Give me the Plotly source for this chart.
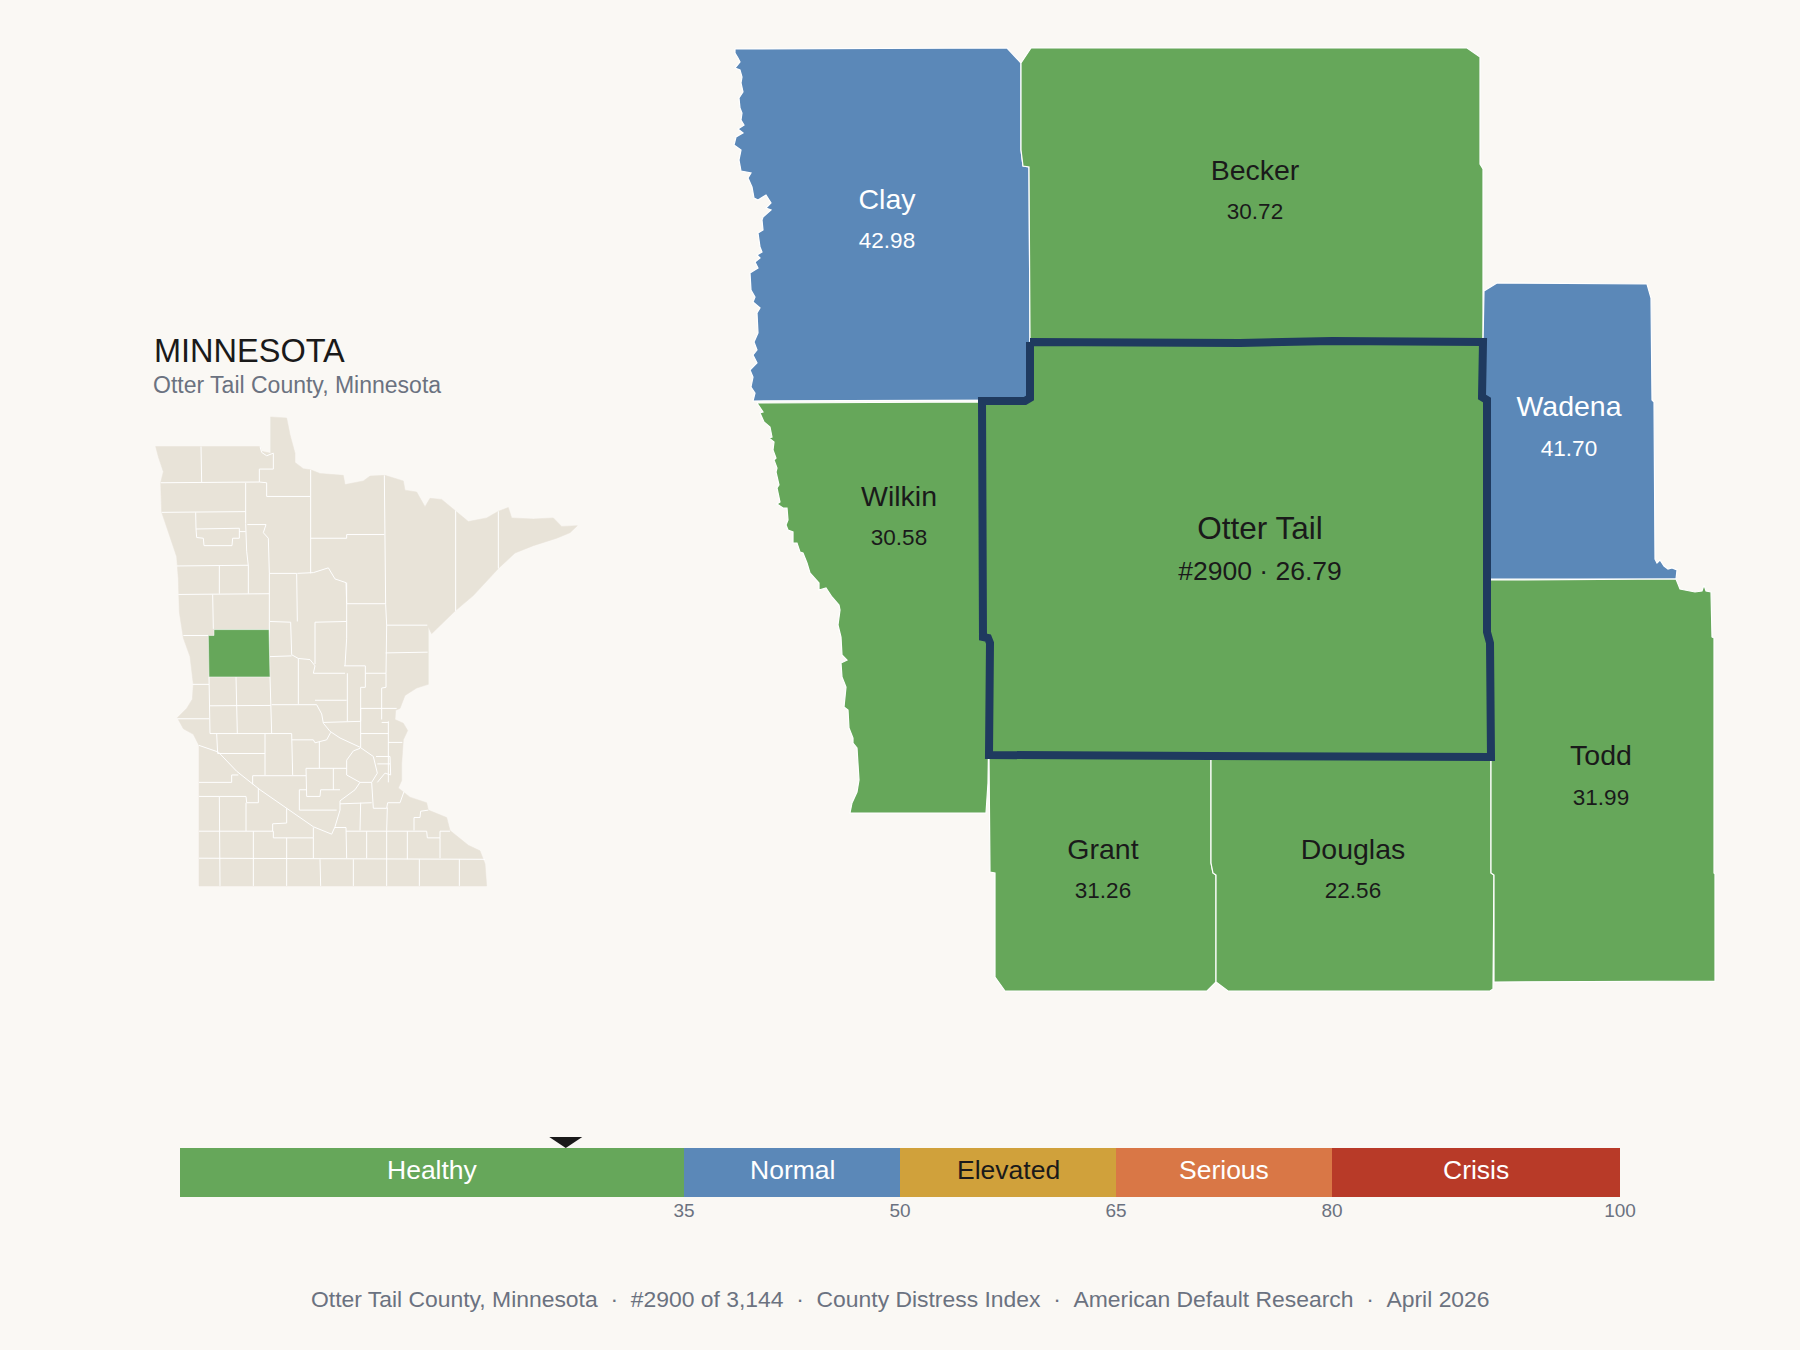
# County distress map for Otter Tail County, with state inset and score scale
import plotly.graph_objects as go

# Colours
BG = "#FAF8F4"
DARK = "#1A1A1A"
GRAY = "#6B7280"
NAVY = "#1F3A5F"
BEIGE = "#E8E3D8"
FONT = "Liberation Sans"

# Score scale
BAND_NAMES = ["Healthy", "Normal", "Elevated", "Serious", "Crisis"]
BAND_LOW = [0, 35, 50, 65, 80]
BAND_HIGH = [35, 50, 65, 80, 100]
BAND_COLORS = ["#66A75A", "#5B88B8", "#D0A13B", "#D97746", "#B83A28"]
BAND_TEXT = ["white", "white", DARK, "white", "white"]
SCALE_TICKS = [35, 50, 65, 80, 100]

# Counties
COUNTY_NAMES = ["Clay", "Becker", "Wadena", "Wilkin", "Grant", "Douglas", "Todd", "Otter Tail"]
COUNTY_SCORES = [42.98, 30.72, 41.70, 30.58, 31.26, 22.56, 31.99, 26.79]
COUNTY_RANK = 2900
LABEL_X = [887, 1255, 1569, 899, 1103, 1353, 1601, 1260]
NAME_Y = [202, 173, 409, 499, 852, 852, 758, 531]
SCORE_Y = [242, 213, 450, 539, 892, 892, 799, 573]

# County outlines, in page pixels
CLAY = [(735, 49), (1007, 48), (1021, 63), (1021, 150), (1023, 166), (1029, 167), (1030, 338), (1030, 397),
        (1027, 400), (753, 401), (755, 393), (751, 387), (753, 377), (750, 370), (757, 363), (753, 355),
        (757, 350), (754, 342), (758, 333), (757, 313), (760, 308), (753, 302), (755, 297), (751, 290),
        (750, 273), (758, 268), (755, 262), (760, 258), (757, 255), (762, 252), (760, 247), (758, 233),
        (763, 230), (762, 220), (763, 217), (771, 210), (766, 208), (771, 203), (766, 195), (758, 200),
        (754, 198), (752, 187), (748, 178), (751, 173), (741, 171), (739, 160), (741, 150), (734, 145),
        (736, 137), (743, 133), (738, 129), (744, 125), (741, 120), (742, 113), (740, 108), (739, 98),
        (743, 92), (741, 83), (742, 77), (740, 70), (735, 68), (740, 62), (738, 58), (735, 53)]
BECKER = [(1031, 48), (1467, 48), (1480, 57), (1480, 164), (1483, 169), (1483, 341), (1030, 341), (1030, 338),
          (1029, 167), (1023, 166), (1021, 150), (1021, 63)]
WADENA = [(1484, 291), (1497, 283), (1647, 284), (1651, 298), (1652, 400), (1654, 402), (1655, 559), (1657, 563),
          (1660, 560), (1664, 566), (1668, 569), (1672, 568), (1677, 570), (1676, 579), (1488, 579), (1487, 400),
          (1482, 397), (1483, 342)]
WILKIN = [(757, 403), (983, 402), (983, 637), (988, 638), (990, 643), (989, 755), (988, 783), (986, 813),
          (850, 813), (852, 803), (857, 792), (859, 780), (858, 757), (857, 748), (853, 743), (853, 738),
          (849, 728), (848, 710), (844, 707), (846, 687), (842, 677), (841, 663), (847, 660), (842, 655),
          (841, 637), (838, 625), (840, 610), (839, 605), (832, 597), (826, 588), (819, 590), (819, 583),
          (810, 573), (807, 563), (803, 553), (800, 552), (797, 543), (793, 543), (793, 532), (788, 530),
          (786, 525), (788, 520), (787, 508), (783, 508), (777, 504), (780, 502), (777, 488), (779, 485),
          (776, 472), (777, 468), (774, 460), (776, 458), (773, 450), (774, 442), (769, 438), (772, 437),
          (770, 427), (764, 422), (760, 413), (763, 412)]
GRANT = [(989, 757), (1211, 757), (1211, 863), (1213, 873), (1216, 875), (1216, 982), (1207, 991), (1005, 991),
         (995, 977), (995, 873), (990, 872)]
DOUGLAS = [(1211, 757), (1491, 757), (1491, 873), (1494, 875), (1493, 989), (1490, 991), (1228, 991), (1216, 982),
           (1216, 875), (1213, 873), (1211, 863)]
TODD = [(1487, 580), (1676, 579), (1680, 589), (1695, 592), (1702, 591), (1704, 585), (1706, 591), (1711, 592),
        (1712, 637), (1714, 638), (1714, 873), (1715, 874), (1715, 981), (1494, 982), (1494, 875), (1491, 873),
        (1491, 757), (1490, 643), (1487, 632)]
OTTER_TAIL = [(1030, 342), (1030, 398), (1025, 401), (982, 401), (983, 637), (988, 638), (990, 643), (989, 755),
              (1210, 756), (1491, 757), (1490, 643), (1487, 632), (1487, 400), (1482, 397), (1483, 342),
              (1332, 341), (1240, 343)]
COUNTY_SHAPES = [CLAY, BECKER, WADENA, WILKIN, GRANT, DOUGLAS, TODD, OTTER_TAIL]

# State inset, in its own units
STATE = [(47, 342), (360, 342), (365, 355), (392, 360), (392, 262), (440, 265), (450, 310), (465, 360), (465, 385),
         (490, 402), (512, 405), (540, 415), (610, 420), (615, 445), (670, 435), (690, 422), (735, 420), (790, 435),
         (795, 460), (830, 465), (855, 505), (870, 482), (905, 485), (945, 515), (985, 545), (1040, 535), (1075, 517),
         (1105, 507), (1115, 535), (1180, 538), (1240, 535), (1265, 558), (1312, 556), (1290, 575), (1250, 590),
         (1180, 610), (1125, 630), (1075, 672), (1000, 745), (945, 787), (900, 825), (875, 848), (865, 830),
         (865, 985), (830, 995), (795, 1015), (780, 1050), (767, 1055), (765, 1080), (790, 1090), (803, 1110),
         (790, 1135), (785, 1200), (785, 1245), (775, 1265), (810, 1290), (860, 1305), (865, 1325), (920, 1345),
         (930, 1380), (985, 1420), (1020, 1435), (1035, 1470), (1040, 1530), (177, 1530), (177, 1150), (160, 1120),
         (130, 1105), (112, 1075), (140, 1050), (157, 1025), (160, 985), (150, 910), (130, 860), (118, 790),
         (115, 700), (110, 640), (85, 570), (65, 520), (62, 440), (70, 410), (55, 370)]
STATE_HIGHLIGHT = [(205, 853), (222, 853), (222, 837), (387, 837), (390, 965), (207, 965)]
STATE_LINES = [
    [(183, 342), (185, 438)],
    [(62, 440), (358, 438)],
    [(358, 438), (358, 403), (400, 403), (400, 360), (380, 367), (365, 358), (360, 342)],
    [(358, 438), (380, 440), (380, 477), (510, 477)],
    [(512, 405), (512, 685)],
    [(317, 440), (317, 550), (320, 625), (325, 665), (325, 740)],
    [(65, 520), (317, 518)],
    [(167, 520), (168, 565), (298, 563), (298, 590), (278, 590), (276, 610), (192, 610), (190, 590), (170, 588), (168, 565)],
    [(298, 572), (317, 572)],
    [(322, 553), (378, 553), (370, 575), (385, 590), (388, 685)],
    [(110, 665), (325, 663)],
    [(238, 665), (238, 740)],
    [(115, 742), (388, 740)],
    [(218, 742), (220, 835)],
    [(388, 685), (470, 685), (472, 815)],
    [(388, 685), (388, 965)],
    [(472, 685), (520, 683), (565, 670), (585, 700), (618, 710), (620, 765)],
    [(512, 590), (620, 590), (620, 580), (733, 580)],
    [(733, 420), (737, 770), (740, 825), (738, 955)],
    [(620, 710), (620, 860), (615, 935)],
    [(620, 767), (737, 767)],
    [(390, 815), (452, 817), (455, 905), (475, 915), (510, 918), (525, 935), (520, 955)],
    [(525, 817), (620, 815)],
    [(525, 817), (525, 930)],
    [(520, 955), (615, 955)],
    [(390, 910), (455, 908)],
    [(475, 915), (475, 1038)],
    [(130, 853), (205, 853)],
    [(222, 837), (388, 837)],
    [(207, 965), (210, 1118)],
    [(158, 985), (207, 985)],
    [(288, 965), (292, 1118)],
    [(390, 965), (395, 1118)],
    [(210, 1043), (392, 1042)],
    [(112, 1078), (208, 1078)],
    [(210, 1118), (455, 1118)],
    [(395, 1040), (530, 1040), (545, 1065), (550, 1090), (570, 1112), (600, 1130), (660, 1155), (700, 1180), (712, 1225),
     (695, 1250), (660, 1250), (645, 1270), (600, 1300), (600, 1325), (585, 1370), (575, 1390), (520, 1370), (440, 1320),
     (360, 1270), (290, 1220), (235, 1168), (177, 1150)],
    [(230, 1118), (233, 1172), (375, 1172)],
    [(375, 1118), (375, 1230)],
    [(455, 1118), (458, 1230)],
    [(455, 1135), (520, 1135), (525, 1143), (560, 1135), (572, 1115)],
    [(538, 1140), (538, 1212)],
    [(338, 1255), (338, 1232), (498, 1232)],
    [(295, 1230), (275, 1230), (275, 1250), (177, 1250)],
    [(498, 1212), (620, 1212)],
    [(498, 1212), (500, 1288), (540, 1288), (542, 1270), (600, 1270)],
    [(580, 1212), (580, 1270)],
    [(500, 1270), (478, 1270), (478, 1325), (590, 1325)],
    [(660, 1250), (620, 1230), (620, 1190), (640, 1165), (660, 1158)],
    [(708, 1180), (750, 1180), (752, 1230), (735, 1225), (712, 1250)],
    [(712, 1200), (750, 1200)],
    [(695, 1250), (700, 1320), (740, 1320), (743, 1305), (780, 1305), (792, 1275)],
    [(612, 935), (676, 935), (676, 993), (662, 993), (662, 1085)],
    [(622, 955), (622, 1085)],
    [(676, 955), (738, 955), (738, 993), (725, 995), (725, 1080)],
    [(525, 1028), (620, 1028)],
    [(550, 1088), (662, 1085)],
    [(662, 1050), (770, 1050)],
    [(662, 1050), (662, 1155)],
    [(662, 1118), (745, 1118)],
    [(745, 1085), (745, 1250)],
    [(725, 1088), (745, 1088)],
    [(745, 1142), (787, 1142)],
    [(740, 825), (862, 825)],
    [(737, 900), (863, 898)],
    [(947, 515), (947, 787)],
    [(1075, 517), (1075, 672)],
    [(662, 1305), (660, 1380)],
    [(600, 1308), (695, 1305)],
    [(742, 1318), (740, 1380)],
    [(822, 1380), (822, 1345), (840, 1345), (842, 1328), (865, 1325)],
    [(860, 1382), (862, 1400), (900, 1400), (900, 1382), (930, 1382)],
    [(177, 1382), (400, 1382), (400, 1400), (520, 1400), (520, 1372)],
    [(440, 1320), (440, 1360), (398, 1362), (398, 1382)],
    [(585, 1372), (618, 1372), (620, 1455)],
    [(618, 1382), (860, 1382)],
    [(177, 1288), (238, 1288), (240, 1530)],
    [(238, 1288), (318, 1288), (320, 1305), (355, 1305), (355, 1265)],
    [(318, 1305), (318, 1382)],
    [(340, 1382), (340, 1530)],
    [(440, 1400), (440, 1530)],
    [(520, 1400), (520, 1455)],
    [(540, 1458), (542, 1530)],
    [(640, 1458), (640, 1530)],
    [(680, 1382), (680, 1455)],
    [(740, 1380), (740, 1530)],
    [(802, 1382), (802, 1458)],
    [(838, 1458), (838, 1530)],
    [(900, 1400), (900, 1455)],
    [(958, 1458), (958, 1530)],
    [(177, 1455), (1035, 1458)],
]


def band_color(score):
    for low, high, color in zip(BAND_LOW, BAND_HIGH, BAND_COLORS):
        if low <= score < high:
            return color
    return BAND_COLORS[-1]


def closed(points):
    return [p[0] for p in points] + [points[0][0]], [p[1] for p in points] + [points[0][1]]


fig = go.Figure()

# Main county map
for name, score, shape in zip(COUNTY_NAMES, COUNTY_SCORES, COUNTY_SHAPES):
    xs, ys = closed(shape)
    is_home = name == "Otter Tail"
    fig.add_trace(go.Scatter(
        x=xs, y=ys, mode="lines", fill="toself", fillcolor=band_color(score),
        line=dict(color=NAVY if is_home else "white", width=8 if is_home else 1.2),
        hoverinfo="skip", showlegend=False,
    ))

text_colors = ["white" if band_color(s) == BAND_COLORS[1] else DARK for s in COUNTY_SCORES]
score_labels = [f"#{COUNTY_RANK} · {s:.2f}" if n == "Otter Tail" else f"{s:.2f}"
                for n, s in zip(COUNTY_NAMES, COUNTY_SCORES)]
fig.add_trace(go.Scatter(
    x=LABEL_X, y=NAME_Y, mode="text", text=COUNTY_NAMES,
    textfont=dict(family=FONT, color=text_colors, size=[31.5 if n == "Otter Tail" else 28.5 for n in COUNTY_NAMES]),
    hoverinfo="skip", showlegend=False,
))
fig.add_trace(go.Scatter(
    x=LABEL_X, y=SCORE_Y, mode="text", text=score_labels,
    textfont=dict(family=FONT, color=text_colors, size=[26.5 if n == "Otter Tail" else 22.5 for n in COUNTY_NAMES]),
    hoverinfo="skip", showlegend=False,
))

# State inset
xs, ys = closed(STATE)
fig.add_trace(go.Scatter(x=xs, y=ys, xaxis="x3", yaxis="y3", mode="lines", fill="toself", fillcolor=BEIGE,
                         line=dict(color=BEIGE, width=0.5), hoverinfo="skip", showlegend=False))
line_x, line_y = [], []
for segment in STATE_LINES:
    line_x += [p[0] for p in segment] + [None]
    line_y += [p[1] for p in segment] + [None]
fig.add_trace(go.Scatter(x=line_x, y=line_y, xaxis="x3", yaxis="y3", mode="lines",
                         line=dict(color="white", width=1), hoverinfo="skip", showlegend=False))
xs, ys = closed(STATE_HIGHLIGHT)
fig.add_trace(go.Scatter(x=xs, y=ys, xaxis="x3", yaxis="y3", mode="lines", fill="toself",
                         fillcolor=band_color(COUNTY_SCORES[-1]), line=dict(color="white", width=0.5),
                         hoverinfo="skip", showlegend=False))

# Score scale bar
fig.add_trace(go.Bar(
    y=["scale"] * len(BAND_NAMES), x=[h - l for h, l in zip(BAND_HIGH, BAND_LOW)], base=BAND_LOW,
    orientation="h", width=1, xaxis="x2", yaxis="y2",
    marker=dict(color=BAND_COLORS, line=dict(width=0)),
    hoverinfo="skip", showlegend=False,
))

band_labels = [dict(text=n, x=(l + h) / 2, y=0, xref="x2", yref="y2", yshift=3, showarrow=False,
                    font=dict(family=FONT, size=26.5, color=c))
               for n, l, h, c in zip(BAND_NAMES, BAND_LOW, BAND_HIGH, BAND_TEXT)]

hidden = dict(visible=False, showgrid=False, zeroline=False)
fig.update_layout(
    width=1800, height=1350,
    margin=dict(l=0, r=0, t=0, b=0, autoexpand=False),
    paper_bgcolor=BG, plot_bgcolor="rgba(0,0,0,0)",
    font=dict(family=FONT),
    xaxis=dict(range=[0, 1800], domain=[0, 1], **hidden),
    yaxis=dict(range=[1350, 0], domain=[0, 1], **hidden),
    xaxis2=dict(range=[0, 100], domain=[0.1, 0.9], anchor="y2", showgrid=False, zeroline=False, showline=False,
                tickmode="array", tickvals=SCALE_TICKS, ticks="", tickfont=dict(family=FONT, size=19, color=GRAY)),
    yaxis2=dict(range=[-0.5, 0.5], domain=[0.1133, 0.1496], anchor="x2", **hidden),
    xaxis3=dict(range=[0, 1380], domain=[140 / 1800, 600 / 1800], anchor="y3", **hidden),
    yaxis3=dict(range=[1568, 0], domain=[450 / 1350, 1030 / 1350], anchor="x3", **hidden),
    shapes=[dict(type="path", xref="x2", yref="paper", xsizemode="pixel", ysizemode="pixel",
                 xanchor=COUNTY_SCORES[-1], yanchor=0.1496, path="M -16.5 11 L 16.5 11 L 0 0 Z",
                 fillcolor=DARK, line=dict(width=0))],
    annotations=band_labels + [
        dict(text="MINNESOTA", x=152, y=351, xref="x", yref="y", xanchor="left", yanchor="middle", showarrow=False,
             font=dict(family=FONT, size=32.5, color=DARK)),
        dict(text="Otter Tail County, Minnesota", x=151, y=385, xref="x", yref="y", xanchor="left", yanchor="middle",
             showarrow=False, font=dict(family=FONT, size=23, color=GRAY)),
        dict(text="Otter Tail County, Minnesota\u00a0\u00a0·\u00a0\u00a0#2900 of 3,144\u00a0\u00a0·\u00a0\u00a0"
                  "County Distress Index\u00a0\u00a0·\u00a0\u00a0American Default Research\u00a0\u00a0·\u00a0\u00a0April 2026",
             x=900, y=1299, xref="x", yref="y", xanchor="center", yanchor="middle", showarrow=False,
             font=dict(family=FONT, size=22.9, color=GRAY)),
    ],
)

fig.write_html("out.html", config={"responsive": False, "displayModeBar": False},
               post_script="document.body.style.margin='0'")
